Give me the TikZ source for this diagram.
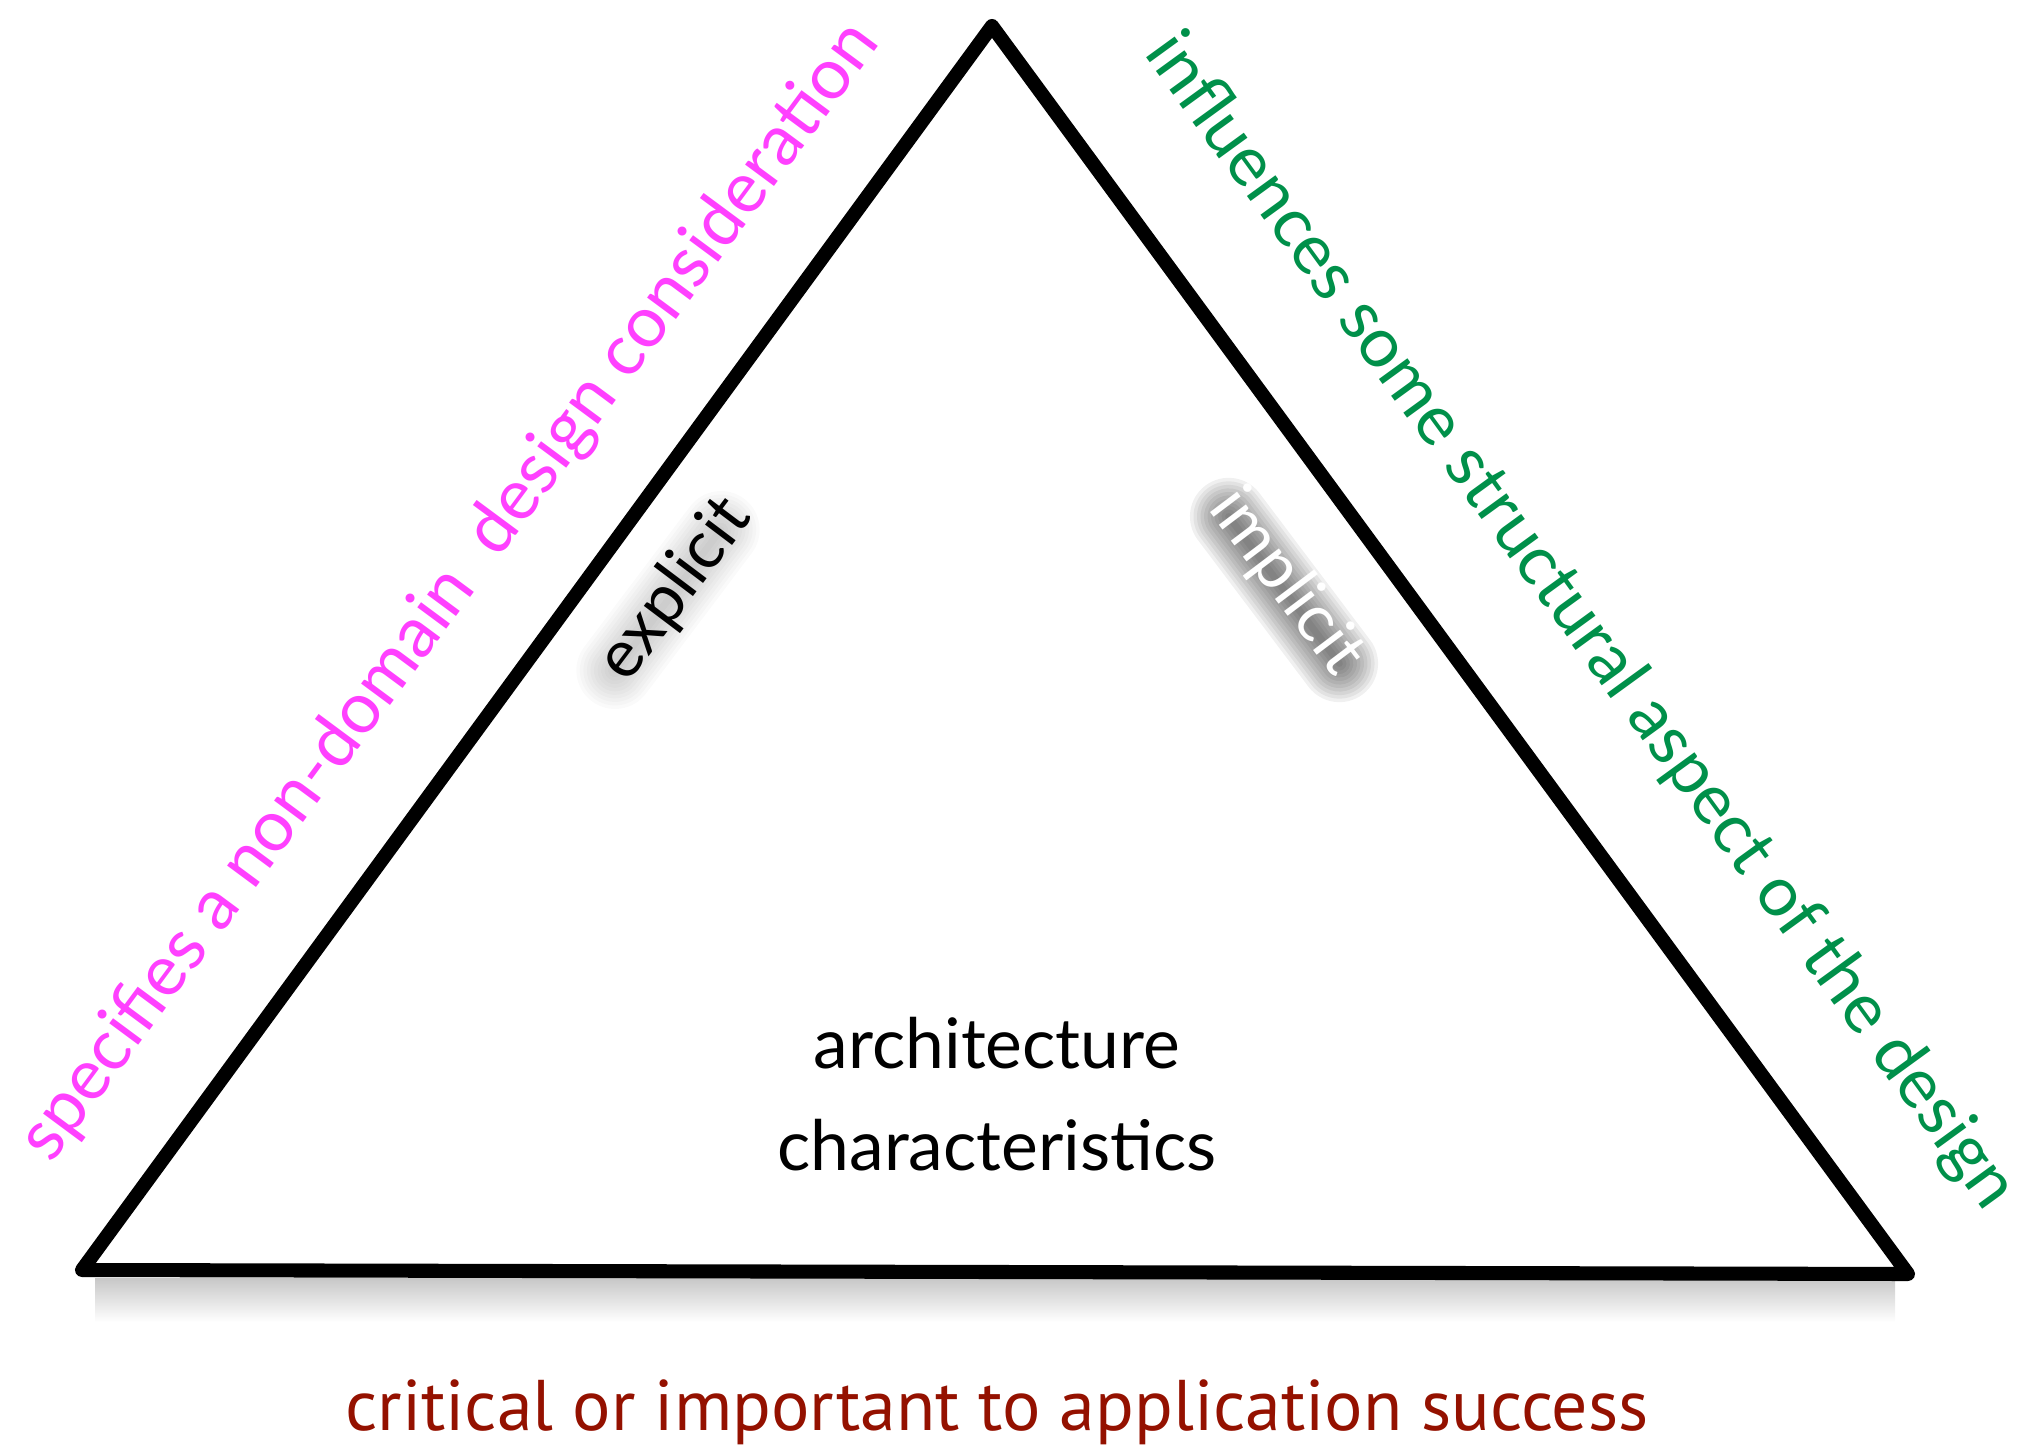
\documentclass[tikz,border=0pt]{standalone}
\usepackage{fontspec}
\setmainfont{Lato}
\newfontfamily\narrowfont{PT Sans}
\usetikzlibrary{positioning}

\definecolor{specpink}{HTML}{FF40FF}
\definecolor{influgreen}{HTML}{00904A}
\definecolor{critred}{HTML}{941100}

\tikzset{
  edgetext/.style={font=\fontsize{20.2pt}{24pt}\selectfont},
  sidetext/.style={font=\fontsize{19pt}{22pt}\selectfont},
  halo/.style={line cap=round,draw=black,draw opacity=#1},
}

\begin{document}
\begin{tikzpicture}[x=0.01cm,y=-0.01cm,line width=4pt]
\useasboundingbox (0,0) rectangle (2017,1446);

\coordinate (top) at (992,26);
\coordinate (left) at (82,1270);
\coordinate (right) at (1908,1274);

% soft shadow under the base
\shade[top color=black!22,bottom color=white,draw=none]
  (95,1278) rectangle (1895,1322);

\draw[line join=round,line cap=round] (top) -- (left) -- (right) -- cycle;

% blurred glow behind the two side words
\coordinate (explglow) at (668,600);
\coordinate (implglow) at (1284,590);
\foreach \w in {2,4,...,22} {
  \draw[halo=0.018,line width=\w pt]
    ([shift={(-53:-88)}]explglow) -- ([shift={(-53:88)}]explglow);
  \draw[halo=0.06,line width=\w pt]
    ([shift={(53:-92)}]implglow) -- ([shift={(53:92)}]implglow);
}
\node[sidetext,rotate=53] (expl) at (675,590) {explicit};
\node[sidetext,rotate=-53,text=white] (impl) at (1286,582) {implicit};

\node[edgetext,rotate=53.5,text=specpink] (spec) at (450,592)
  {specifies a non-domain\ \ design consideration};
\node[edgetext,font=\fontsize{19.8pt}{24pt}\selectfont,rotate=-54,text=influgreen] (infl) at (1580,622)
  {influences some structural aspect of the design};

\node[font=\fontsize{19.8pt}{23pt}\selectfont,align=center] (arch) at (997,1094)
  {architecture\\[6pt]characteristics};

\node[font=\narrowfont\fontsize{20.4pt}{24pt}\selectfont,text=critred] (crit) at (997,1412)
  {critical or important to application success};
\end{tikzpicture}
\end{document}
